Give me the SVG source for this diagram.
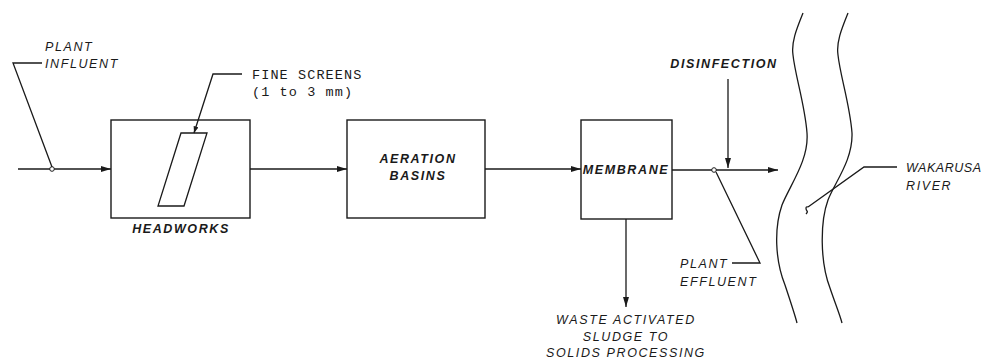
<svg xmlns="http://www.w3.org/2000/svg" width="985" height="360" viewBox="0 0 985 360">
<style>
.ln{fill:none;stroke:#1a1a1a;stroke-width:1.3}
.bx{fill:#fff;stroke:#1a1a1a;stroke-width:1.4}
.t{font-family:"Liberation Sans",Arial,sans-serif;font-style:italic;font-size:12.5px;letter-spacing:1.6px;fill:#1a1a1a}
.m{font-family:"Liberation Mono","Courier New",monospace;font-size:13.5px;letter-spacing:1.1px;fill:#1a1a1a}
.b{font-family:"Liberation Sans",Arial,sans-serif;font-style:italic;font-weight:bold;font-size:12.5px;letter-spacing:1.6px;fill:#1a1a1a}
</style>
<defs>
<marker id="ah" viewBox="0 0 10 6" refX="10" refY="3" markerWidth="10" markerHeight="6" markerUnits="userSpaceOnUse" orient="auto">
<path d="M0,0 L10,3 L0,6 Z" fill="#1a1a1a"/>
</marker>
<marker id="ahs" viewBox="0 0 8 6" refX="8" refY="3" markerWidth="7" markerHeight="5" markerUnits="userSpaceOnUse" orient="auto">
<path d="M0,0 L8,3 L0,6 Z" fill="#1a1a1a"/>
</marker>
</defs>

<g id="headworks">
<rect class="bx" x="111" y="120" width="139" height="98"/>
<path class="ln" d="M181,133 L207,133 L184,206 L158,206 Z"/>
<text class="b" x="181" y="233" text-anchor="middle">HEADWORKS</text>
</g>
<g id="aeration">
<rect class="bx" x="347" y="120" width="138" height="98"/>
<text class="b" x="418" y="163" text-anchor="middle">AERATION</text>
<text class="b" x="418" y="180" text-anchor="middle">BASINS</text>
</g>
<g id="membrane">
<rect class="bx" x="581" y="120" width="91" height="99"/>
<text class="b" x="626" y="174" text-anchor="middle">MEMBRANE</text>
</g>
<g id="river">
<path class="ln" d="M803,13 C797,28 791,42 793,55 C795,75 805,105 807,133 C809,160 790,185 782,205 C774,228 775,260 785,285 C790,300 795,315 797,323"/>
<path class="ln" d="M848,13 C842,28 836,42 838,55 C840,75 850,105 852,133 C853,160 835,182 828,200 C820,222 820,262 830,288 C835,303 840,315 842,323"/>
</g>

<g id="connectors">
<line class="ln" x1="18" y1="169" x2="111" y2="169" marker-end="url(#ah)"/>
<line class="ln" x1="250" y1="169" x2="347" y2="169" marker-end="url(#ah)"/>
<line class="ln" x1="485" y1="169" x2="581" y2="169" marker-end="url(#ah)"/>
<line class="ln" x1="672" y1="170" x2="778" y2="170" marker-end="url(#ah)"/>
<line class="ln" x1="626" y1="219" x2="626" y2="307" marker-end="url(#ah)"/>
<line class="ln" x1="728" y1="79" x2="728" y2="168" marker-end="url(#ah)"/>
<circle cx="52" cy="169" r="2.3" fill="#fff" stroke="#1a1a1a" stroke-width="1"/>
<circle cx="714" cy="170" r="2.3" fill="#fff" stroke="#1a1a1a" stroke-width="1"/>
<polyline class="ln" points="52,167 13,63 42,63"/>
<polyline class="ln" points="242,74 213,74 194,133" marker-end="url(#ahs)"/>
<polyline class="ln" points="716,172 760,263 732,263"/>
<polyline class="ln" points="897,167 864,167 808,207"/>
<path class="ln" d="M808,207 C805,206 806,210 807,211 C808,212 806,214 806,214"/>
</g>

<g id="labels">
<text class="t" x="45" y="51">PLANT</text>
<text class="t" x="45" y="68">INFLUENT</text>
<text class="m" x="252" y="79">FINE SCREENS</text>
<text class="m" x="252" y="96">(1 to 3 mm)</text>
<text class="b" x="724" y="68" text-anchor="middle">DISINFECTION</text>
<text class="t" x="680" y="268">PLANT</text>
<text class="t" x="680" y="286">EFFLUENT</text>
<text class="t" x="906" y="172" textLength="75" lengthAdjust="spacing" style="letter-spacing:0">WAKARUSA</text>
<text class="t" x="906" y="190">RIVER</text>
<text class="t" x="626" y="324" text-anchor="middle">WASTE ACTIVATED</text>
<text class="t" x="626" y="341" text-anchor="middle">SLUDGE TO</text>
<text class="t" x="626" y="357" text-anchor="middle">SOLIDS PROCESSING</text>
</g>
</svg>
